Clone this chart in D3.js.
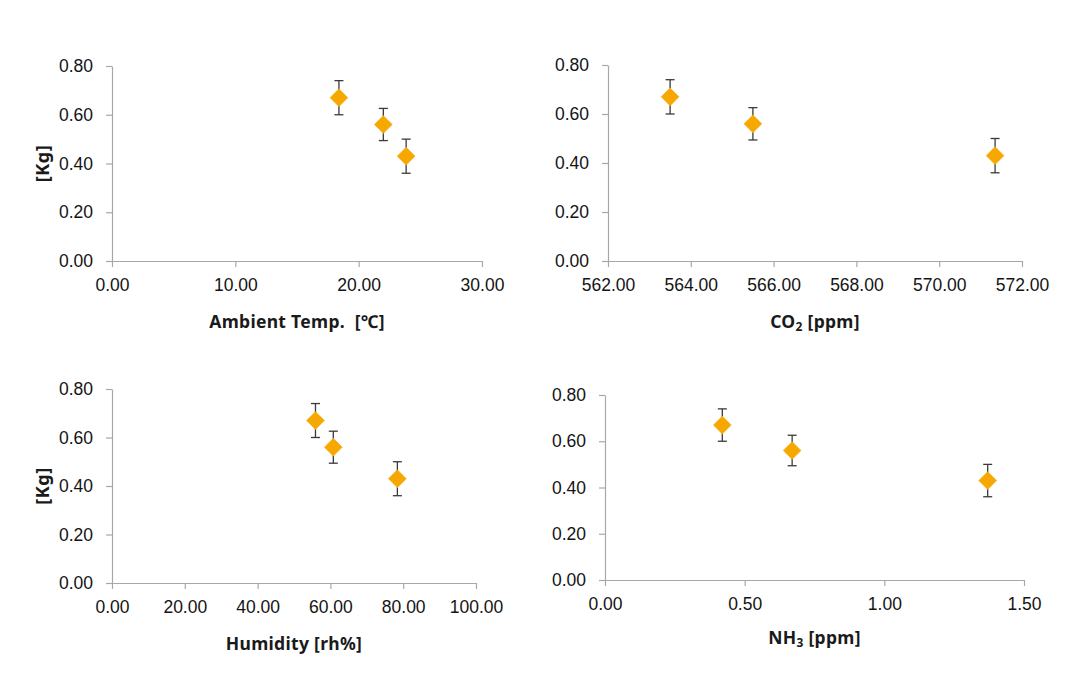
<!DOCTYPE html>
<html>
<head>
<meta charset="utf-8">
<script src="https://cdn.jsdelivr.net/npm/d3@7"></script>
<style>
  html, body { margin: 0; padding: 0; background: #fff; }
  svg { display: block; font-family: "Noto Sans", "Open Sans", sans-serif; }
  text { white-space: pre; }
</style>
</head>
<body>
<svg id="chart" width="1071" height="677"></svg>
<script>
// ---- data ----
const kgValues = [0.67, 0.56, 0.43];
const kgErrors = [0.07, 0.066, 0.07];
const tempValues = [18.4, 22.0, 23.85];
const co2Values = [563.5, 565.5, 571.35];
const humidityValues = [55.9, 60.8, 78.4];
const nh3Values = [0.42, 0.67, 1.37];

const yTicks = [0, 0.2, 0.4, 0.6, 0.8];
const tempTicks = [0, 10, 20, 30];
const co2Ticks = [562, 564, 566, 568, 570, 572];
const humidityTicks = [0, 20, 40, 60, 80, 100];
const nh3Ticks = [0, 0.5, 1.0, 1.5];

// ---- panel layout ----
const panels = [
  { xs: tempValues, ticks: tempTicks, dom: [0, 30], x0: 112, x1: 482, y0: 261, y1: 66,
    title: [{t: "Ambient Temp.  [℃]"}], titleY: 323, yTitle: true },
  { xs: co2Values, ticks: co2Ticks, dom: [562, 572], x0: 608, x1: 1022, y0: 261, y1: 65,
    title: [{t: "CO"}, {t: "2", sub: true}, {t: " [ppm]"}], titleY: 323, yTitle: false },
  { xs: humidityValues, ticks: humidityTicks, dom: [0, 100], x0: 112, x1: 476, y0: 583, y1: 389,
    title: [{t: "Humidity [rh%]"}], titleY: 645, yTitle: true },
  { xs: nh3Values, ticks: nh3Ticks, dom: [0, 1.5], x0: 605, x1: 1024, y0: 580, y1: 395,
    title: [{t: "NH"}, {t: "3", sub: true}, {t: " [ppm]"}], titleY: 639, yTitle: false }
];

const svg = d3.select("#chart");
const fmt = d3.format(".2f");
const axisColor = "#a8a8a8";

panels.forEach(p => {
  const x = d3.scaleLinear().domain(p.dom).range([p.x0, p.x1]);
  const y = d3.scaleLinear().domain([0, 0.8]).range([p.y0, p.y1]);
  const g = svg.append("g");

  // y axis
  const ya = g.append("g").attr("transform", `translate(${p.x0},0)`)
    .call(d3.axisLeft(y).tickValues(yTicks).tickFormat(fmt).tickSize(6).tickSizeOuter(0).tickPadding(13));
  // x axis
  const xa = g.append("g").attr("transform", `translate(0,${p.y0})`)
    .call(d3.axisBottom(x).tickValues(p.ticks).tickFormat(fmt).tickSize(6).tickSizeOuter(0).tickPadding(12));

  [ya, xa].forEach(a => {
    a.select(".domain").attr("stroke", axisColor).attr("stroke-width", 1.2);
    a.selectAll(".tick line").attr("stroke", axisColor).attr("stroke-width", 1.2);
    a.selectAll(".tick text").attr("fill", "#141414").style("font-size", "17.5px");
  });

  // error bars
  const eb = g.append("g").attr("stroke", "#3a3a3a").attr("stroke-width", 1.3);
  p.xs.forEach((xv, i) => {
    const cx = x(xv);
    const yt = y(kgValues[i] + kgErrors[i]);
    const yb = y(kgValues[i] - kgErrors[i]);
    eb.append("line").attr("x1", cx).attr("x2", cx).attr("y1", yt).attr("y2", yb);
    eb.append("line").attr("x1", cx - 4.5).attr("x2", cx + 4.5).attr("y1", yt).attr("y2", yt);
    eb.append("line").attr("x1", cx - 4.5).attr("x2", cx + 4.5).attr("y1", yb).attr("y2", yb);
  });

  // diamond markers
  const sym = d3.symbol().type(d3.symbolDiamond2).size(200);
  g.append("g").selectAll("path").data(p.xs).join("path")
    .attr("d", sym)
    .attr("transform", (d, i) => `translate(${x(d)},${y(kgValues[i])})`)
    .attr("fill", "#f7a800")
    .attr("stroke", "#f2b21c")
    .attr("stroke-width", 0.8);

  // x title
  const tt = g.append("text")
    .attr("x", (p.x0 + p.x1) / 2)
    .attr("y", p.titleY)
    .attr("text-anchor", "middle")
    .attr("dominant-baseline", "middle")
    .style("font-size", "17.5px")
    .style("font-weight", "bold")
    .style("letter-spacing", "0.3px")
    .attr("fill", "#1a1a1a");
  p.title.forEach(part => {
    const ts = tt.append("tspan").text(part.t);
    if (part.sub) ts.attr("dy", 5).style("font-size", "12px");
    else if (tt.selectAll("tspan").size() > 1) ts.attr("dy", -5);
  });

  if (p.yTitle) {
    g.append("text")
      .attr("transform", `translate(44,${(p.y0 + p.y1) / 2}) rotate(-90)`)
      .attr("text-anchor", "middle")
      .attr("dominant-baseline", "middle")
      .style("font-size", "18px")
      .style("font-weight", "bold")
      .style("letter-spacing", "0.5px")
      .attr("fill", "#1a1a1a")
      .text("[Kg]");
  }
});
</script>
</body>
</html>
